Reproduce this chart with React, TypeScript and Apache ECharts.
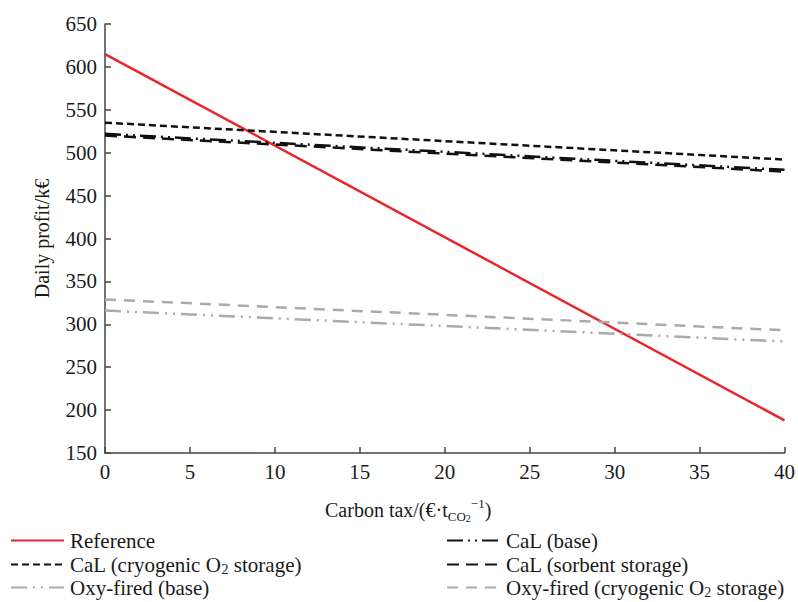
import React, { useEffect, useRef } from "react";
import * as echarts from "echarts";

const xs = [0, 40];
const reference = [615, 188];
const calBase = [522, 480];
const calCryo = [535, 492];
const calSorbent = [520, 478];
const oxyBase = [316, 280];
const oxyCryo = [329, 293];

const xTicks = { min: 0, max: 40, interval: 5 };
const yTicks = { min: 150, max: 650, interval: 50 };

const leftLegend = ["Reference", "CaL (cryogenic O2 storage)", "Oxy-fired (base)"];
const rightLegend = ["CaL (base)", "CaL (sorbent storage)", "Oxy-fired (cryogenic O2 storage)"];

const FONT = "Liberation Serif";

const toPts = (arr: number[]) => xs.map((x, i) => [x, arr[i]]);

export default function App() {
  const ref = useRef<HTMLDivElement>(null);
  useEffect(() => {
    const chart = echarts.init(ref.current!, null, { renderer: "svg" });
    const mk = (name: string, data: number[], color: string, type: any, width = 2.5) => ({
      name,
      type: "line",
      data: toPts(data),
      symbol: "none",
      lineStyle: { color, width, type },
      itemStyle: { color },
    });
    const legendRich = {
      sub: { fontSize: 14, fontFamily: FONT, lineHeight: 8, verticalAlign: "bottom", color: "#1a1a1a" },
      m: { fontSize: 21, fontFamily: FONT, lineHeight: 24, color: "#1a1a1a" },
    };
    const legendFmt = (name: string) => {
      const i = name.indexOf("O2");
      if (i >= 0) {
        return "{m|" + name.slice(0, i + 1) + "}{sub|2}{m|" + name.slice(i + 2) + "}";
      }
      return "{m|" + name + "}";
    };
    const rowTops = [530, 554, 577];
    const mkLegend = (name: string, left: number, top: number) => ({
      orient: "horizontal",
      left,
      top,
      padding: 0,
      itemWidth: 53,
      itemHeight: 14,
      itemGap: 0,
      data: [name],
      formatter: legendFmt,
      itemStyle: { opacity: 0 },
      textStyle: { fontFamily: FONT, fontSize: 21, color: "#1a1a1a", rich: legendRich, padding: [0, 0, 0, 1] },
    });
    chart.setOption({
      animation: false,
      grid: { left: 105, right: 13, top: 24, bottom: 149 },
      xAxis: {
        type: "value",
        ...xTicks,
        axisLine: { lineStyle: { color: "#444", width: 1.5 } },
        axisTick: { inside: true, length: 6, lineStyle: { color: "#444", width: 1.5 } },
        axisLabel: { fontFamily: FONT, fontSize: 21, color: "#1a1a1a", margin: 8 },
        splitLine: { show: false },
      },
      yAxis: {
        type: "value",
        ...yTicks,
        name: "Daily profit/k€",
        nameLocation: "middle",
        nameGap: 53,
        nameTextStyle: { fontFamily: FONT, fontSize: 20, color: "#1a1a1a" },
        axisLine: { show: true, lineStyle: { color: "#444", width: 1.5 } },
        axisTick: { show: true, inside: true, length: 6, lineStyle: { color: "#444", width: 1.5 } },
        axisLabel: { fontFamily: FONT, fontSize: 21, color: "#1a1a1a", margin: 8 },
        splitLine: { show: false },
      },
      legend: [
        ...leftLegend.map((n, i) => mkLegend(n, 10, rowTops[i])),
        ...rightLegend.map((n, i) => mkLegend(n, 446, rowTops[i])),
      ],
      graphic: [
        {
          type: "text",
          left: 325,
          top: 497,
          style: {
            text: "{m|Carbon tax/(€·t}{s|CO}{ss|2}{p|−1}{m|)}",
            fontFamily: FONT,
            fontSize: 20,
            fill: "#1a1a1a",
            rich: {
              m: { fontFamily: FONT, fontSize: 20, lineHeight: 26, fill: "#1a1a1a" },
              s: { fontFamily: FONT, fontSize: 13, lineHeight: 10, verticalAlign: "bottom", fill: "#1a1a1a" },
              ss: { fontFamily: FONT, fontSize: 10, lineHeight: 5, verticalAlign: "bottom", fill: "#1a1a1a" },
              p: { fontFamily: FONT, fontSize: 13, lineHeight: 9, verticalAlign: "top", fill: "#1a1a1a" },
            },
          },
        },
      ],
      series: [
        mk("Reference", reference, "#e8262a", "solid", 2.5),
        mk("CaL (base)", calBase, "#111", [16, 5, 2, 5, 2, 5], 2.5),
        mk("CaL (cryogenic O2 storage)", calCryo, "#111", [7, 4], 2.5),
        mk("CaL (sorbent storage)", calSorbent, "#111", [12, 7], 2.5),
        mk("Oxy-fired (base)", oxyBase, "#aaaaaa", [16, 6, 2, 6, 2, 6], 2.5),
        mk("Oxy-fired (cryogenic O2 storage)", oxyCryo, "#aaaaaa", [11, 8], 2.5),
      ],
    });
    return () => chart.dispose();
  }, []);
  return <div ref={ref} style={{ width: 798, height: 602, position: "absolute", left: 0, top: 0 }} />;
}
